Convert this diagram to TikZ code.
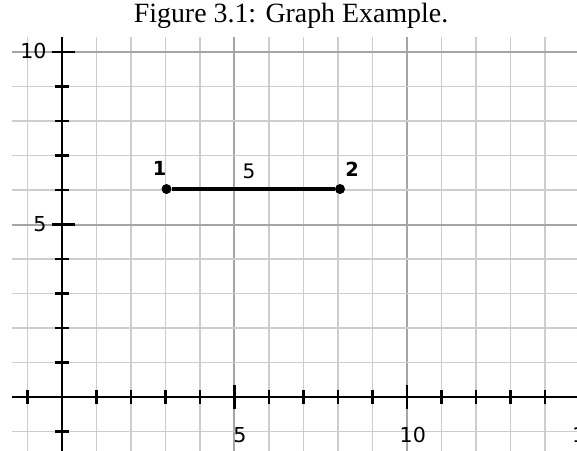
\documentclass[tikz,border=0pt]{standalone}
\usepackage{fontspec}
\setmainfont{Liberation Serif}
\newfontfamily\plotfont{DejaVu Sans}
\usepackage{xcolor}
\definecolor{gridminor}{RGB}{205,205,205}
\definecolor{gridmajor}{RGB}{165,165,165}
\usepackage{tikz}
\usetikzlibrary{positioning}
\tikzset{
  minorgrid/.style={draw=gridminor,line width=1.3pt},
  majorgrid/.style={draw=gridmajor,line width=1.6pt},
  axisline/.style ={draw=black,line width=2pt},
  tickmark/.style ={draw=black,line width=1.8pt},
  vertex/.style   ={circle,fill=black,inner sep=0pt,minimum size=2.9mm},
  edge/.style     ={draw=black,line width=3pt},
  vlabel/.style   ={inner sep=0pt,font=\plotfont\bfseries\fontsize{16}{18}\selectfont},
  elabel/.style   ={inner sep=0pt,font=\plotfont\fontsize{16.5}{18}\selectfont},
  ticklabel/.style={inner sep=0pt,font=\plotfont\fontsize{17}{19}\selectfont,text=black},
}

\begin{document}
\begin{tikzpicture}
  \useasboundingbox (-1.797,-1.536) rectangle (14.93,11.51);
  \clip (-1.797,-1.536) rectangle (14.93,11.51);
  % caption
  \node[anchor=base,inner sep=0pt,font=\fontsize{23}{26}\selectfont] (title) at (6.64,10.87)
    {Figure 3.1: Graph Example.};
  % grid
  \foreach \x in {-1,...,14} {
    \ifnum\x=5 \draw[majorgrid] (\x,-1.6) -- (\x,10.44);
    \else\ifnum\x=10 \draw[majorgrid] (\x,-1.6) -- (\x,10.44);
    \else \draw[minorgrid] (\x,-1.6) -- (\x,10.44); \fi\fi
  }
  \foreach \y in {-1,...,10} {
    \ifnum\y=5 \draw[majorgrid] (-1.45,\y) -- (15,\y);
    \else\ifnum\y=10 \draw[majorgrid] (-1.45,\y) -- (15,\y);
    \else \draw[minorgrid] (-1.45,\y) -- (15,\y); \fi\fi
  }
  % axes
  \draw[axisline] (-1.45,0) -- (15,0);
  \draw[axisline] (0,-1.6) -- (0,10.44);
  \foreach \x in {-1,1,2,3,4,6,7,8,9,11,12,13,14}
    \draw[tickmark] (\x,-0.2) -- (\x,0.2);
  \foreach \x in {5,10}
    \draw[tickmark] (\x,-0.35) -- (\x,0.35);
  \foreach \y in {-1,1,2,3,4,6,7,8,9}
    \draw[tickmark] (-0.19,\y) -- (0.19,\y);
  \foreach \y in {5,10}
    \draw[tickmark] (-0.3,\y) -- (0.37,\y);
  % tick labels
  \foreach \x/\xs in {5/5.16,10/10.17,15/15.17}
    \node[ticklabel,anchor=base] (xl\x) at (\xs,-1.33) {\x};
  \foreach \y in {5,10}
    \node[ticklabel,anchor=base east] (yl\y) at (-0.44,\y-0.19) {\y};
  % the graph
  \node[vertex] (v1) at (3.03,6.03) {};
  \node[vertex] (v2) at (8.06,6.03) {};
  \draw[edge] (v1) -- (v2);
  \node[vlabel] (n1) at (2.83,6.62) {1};
  \node[vlabel] (n2) at (8.41,6.6) {2};
  \node[elabel] (w12) at (5.42,6.53) {5};
\end{tikzpicture}
\end{document}
